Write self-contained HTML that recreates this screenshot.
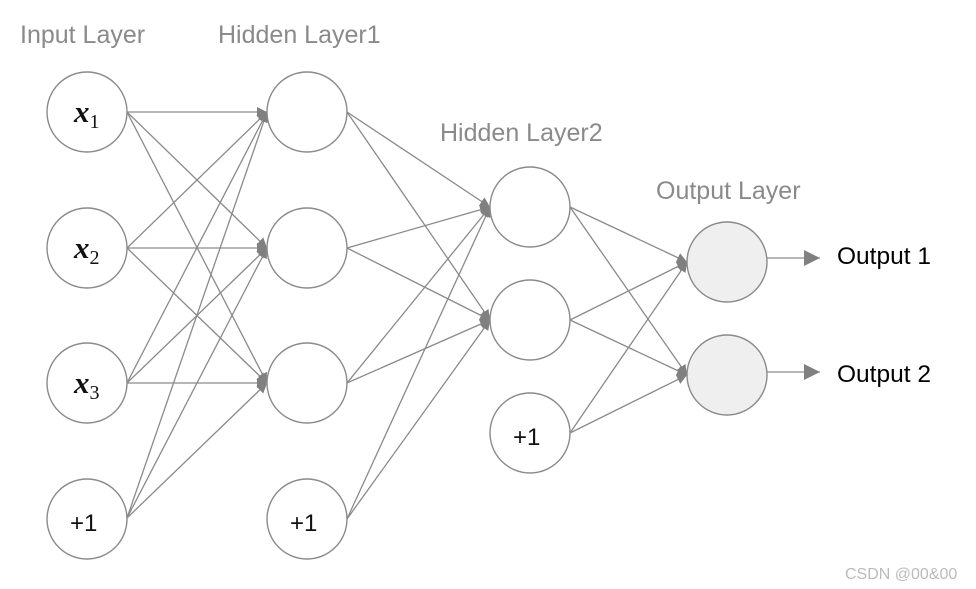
<!DOCTYPE html>
<html><head><meta charset="utf-8"><style>
html,body{margin:0;padding:0;background:#fff;}
svg{display:block;}
</style></head><body>
<svg width="976" height="589" viewBox="0 0 976 589" xmlns="http://www.w3.org/2000/svg">
<defs>
<marker id="a" viewBox="0 0 10 10" refX="10" refY="5" markerWidth="10" markerHeight="10" markerUnits="userSpaceOnUse" orient="auto">
<path d="M0,0 L10,5 L0,10 z" fill="#808080"/>
</marker>
<marker id="b" viewBox="0 0 10 10" refX="10" refY="5" markerWidth="16" markerHeight="16" markerUnits="userSpaceOnUse" orient="auto">
<path d="M0,0 L10,5 L0,10 z" fill="#808080"/>
</marker>
</defs>
<g stroke="#8a8a8a" stroke-width="1.3" fill="none" marker-end="url(#a)">
<line x1="127" y1="112" x2="267" y2="112"/>
<line x1="127" y1="112" x2="267" y2="248"/>
<line x1="127" y1="112" x2="267" y2="383"/>
<line x1="127" y1="248" x2="267" y2="112"/>
<line x1="127" y1="248" x2="267" y2="248"/>
<line x1="127" y1="248" x2="267" y2="383"/>
<line x1="127" y1="383" x2="267" y2="112"/>
<line x1="127" y1="383" x2="267" y2="248"/>
<line x1="127" y1="383" x2="267" y2="383"/>
<line x1="127" y1="518" x2="267" y2="112"/>
<line x1="127" y1="518" x2="267" y2="248"/>
<line x1="127" y1="518" x2="267" y2="383"/>
<line x1="347" y1="112" x2="490" y2="207"/>
<line x1="347" y1="112" x2="490" y2="320"/>
<line x1="347" y1="248" x2="490" y2="207"/>
<line x1="347" y1="248" x2="490" y2="320"/>
<line x1="347" y1="383" x2="490" y2="207"/>
<line x1="347" y1="383" x2="490" y2="320"/>
<line x1="347" y1="519" x2="490" y2="207"/>
<line x1="347" y1="519" x2="490" y2="320"/>
<line x1="570" y1="207" x2="687" y2="262"/>
<line x1="570" y1="207" x2="687" y2="375"/>
<line x1="570" y1="320" x2="687" y2="262"/>
<line x1="570" y1="320" x2="687" y2="375"/>
<line x1="570" y1="433" x2="687" y2="262"/>
<line x1="570" y1="433" x2="687" y2="375"/>
</g>
<g stroke="#8a8a8a" stroke-width="1.3" marker-end="url(#b)">
<line x1="767" y1="258" x2="820" y2="258"/>
<line x1="767" y1="372" x2="820" y2="372"/>
</g>
<g stroke="#8a8a8a" stroke-width="1.4" fill="#fff">
<circle cx="87" cy="112" r="40"/>
<circle cx="87" cy="248" r="40"/>
<circle cx="87" cy="383" r="40"/>
<circle cx="87" cy="519" r="40"/>
<circle cx="307" cy="112" r="40"/>
<circle cx="307" cy="248" r="40"/>
<circle cx="307" cy="383" r="40"/>
<circle cx="307" cy="519" r="40"/>
<circle cx="530" cy="207" r="40"/>
<circle cx="530" cy="320" r="40"/>
<circle cx="530" cy="433" r="40"/>
<circle cx="727" cy="262" r="40" fill="#efefef"/>
<circle cx="727" cy="375" r="40" fill="#efefef"/>
</g>
<g font-family="Liberation Sans, sans-serif" fill="#8a8a8a" font-size="25">
<text x="20" y="43">Input Layer</text>
<text x="218" y="43">Hidden Layer1</text>
<text x="440" y="141">Hidden Layer2</text>
<text x="656" y="199">Output Layer</text>
</g>
<g font-family="Liberation Serif, serif" font-style="italic" font-weight="bold" fill="#111" font-size="31">
<text x="74" y="122">x<tspan font-size="20" font-weight="normal" font-style="normal" dy="6">1</tspan></text>
<text x="74" y="258">x<tspan font-size="20" font-weight="normal" font-style="normal" dy="6">2</tspan></text>
<text x="74" y="393">x<tspan font-size="20" font-weight="normal" font-style="normal" dy="6">3</tspan></text>
</g>
<g font-family="Liberation Sans, sans-serif" fill="#111" font-size="24">
<text x="70" y="531">+1</text>
<text x="290" y="531">+1</text>
<text x="513" y="445">+1</text>
</g>
<g font-family="Liberation Sans, sans-serif" fill="#000" font-size="24.5">
<text x="837" y="264">Output 1</text>
<text x="837" y="382">Output 2</text>
</g>
<text x="845" y="579" font-family="Liberation Sans, sans-serif" font-size="16" fill="#bbb">CSDN @00&amp;00</text>
</svg>
</body></html>
